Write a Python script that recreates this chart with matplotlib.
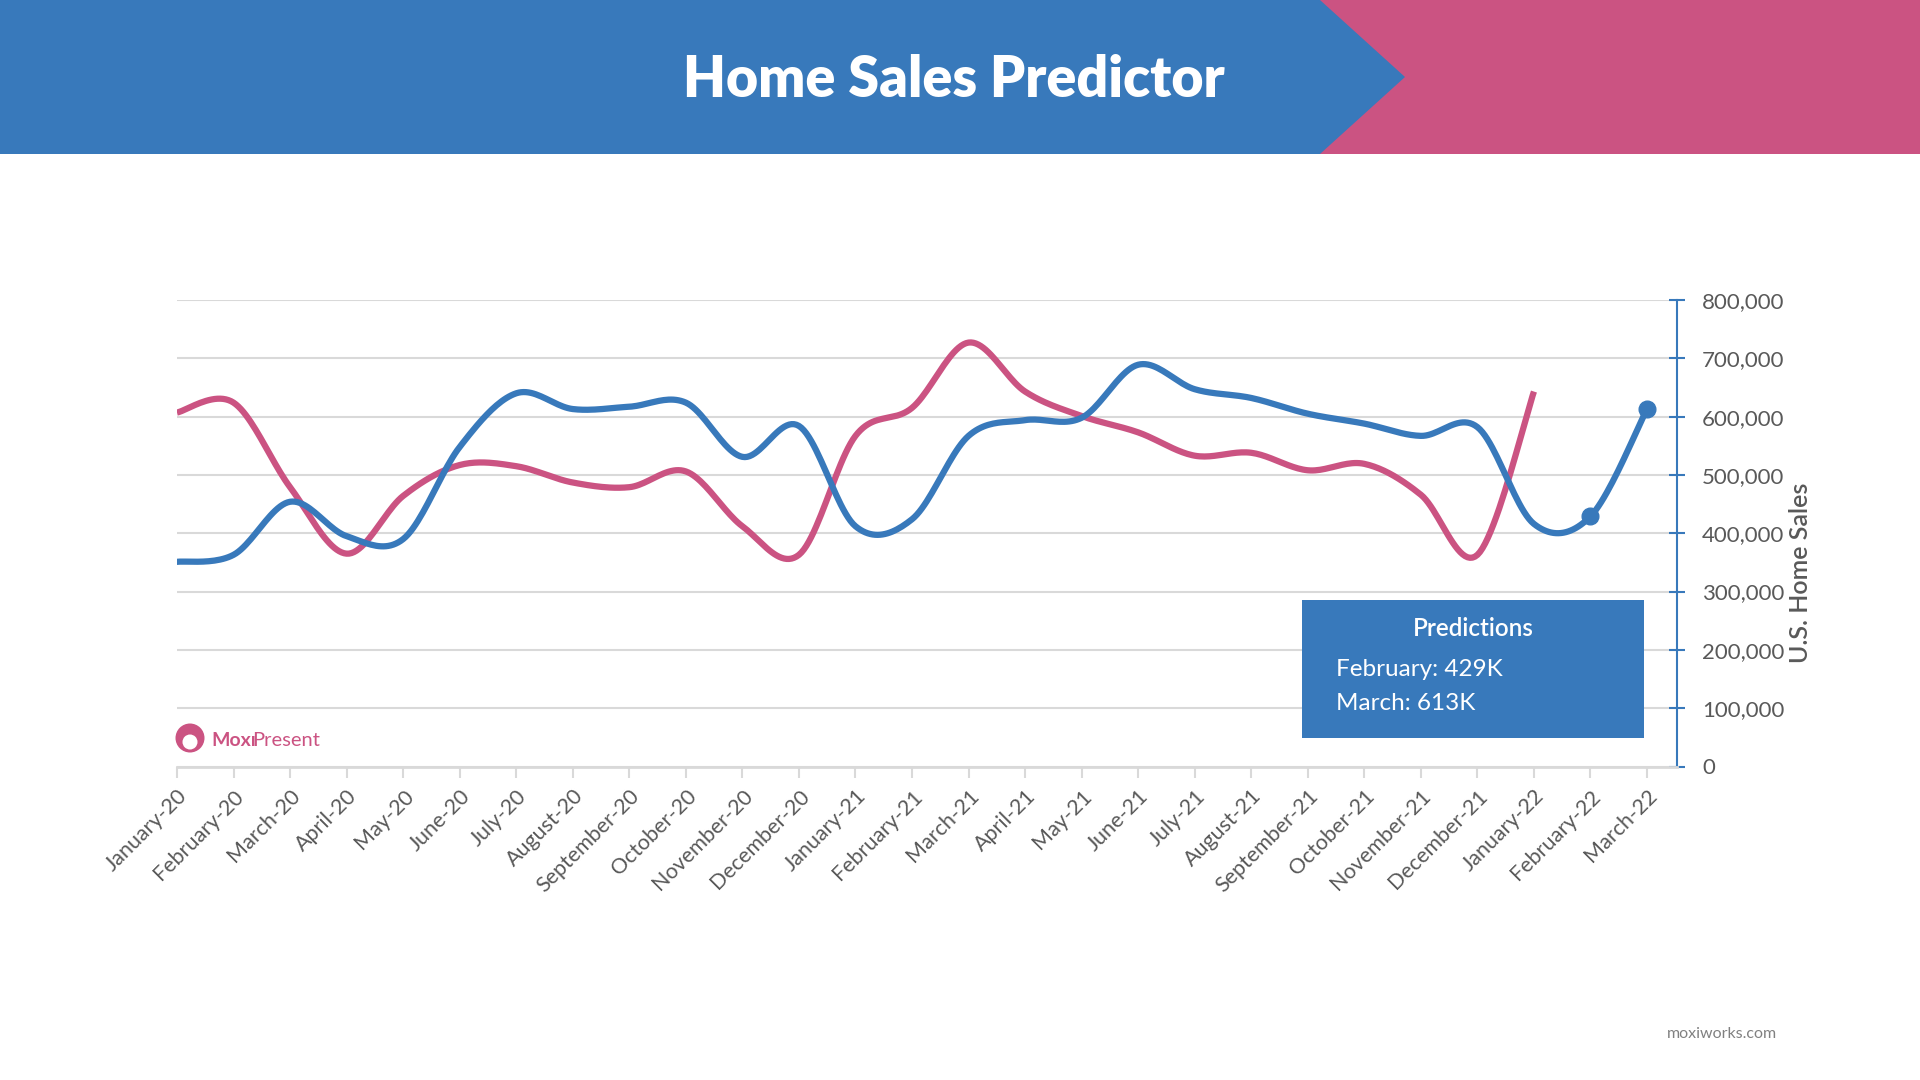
import numpy as np
import matplotlib.pyplot as plt
from matplotlib.patches import Polygon, Rectangle, Circle
from matplotlib.ticker import FuncFormatter

BLUE = "#3879BB"
PINK = "#CB5382"
GRAY = "#595959"
GRID = "#D9D9D9"

months = ["January", "February", "March", "April", "May", "June", "July",
          "August", "September", "October", "November", "December"]
labels = ([m + "-20" for m in months] + [m + "-21" for m in months]
          + ["January-22", "February-22", "March-22"])

# blue series (Jan-20 .. Mar-22, last two are predictions)
sales = [351000, 363000, 454000, 395000, 390000, 548000, 640000, 613000, 617000,
         624000, 531000, 584000, 412000, 424000, 567000, 594000, 598000, 689000,
         647000, 632000, 605000, 588000, 567000, 582000, 416000, 429000, 613000]
# pink series (Jan-20 .. Jan-22)
other = [607000, 624000, 479000, 365000, 464000, 517000, 515000, 487000, 479000,
         506000, 412000, 363000, 567000, 615000, 727000, 643000, 601000, 573000,
         533000, 538000, 508000, 519000, 466000, 363000, 643000]
pred_idx = [25, 26]


def smooth(xs, ys, n=24):
    # Catmull-Rom curve through the points, like a smoothed office chart line
    p = np.column_stack([xs, ys]).astype(float)
    p = np.vstack([p[0], p, p[-1]])
    out = []
    t = np.linspace(0, 1, n)[:, None]
    for i in range(1, len(p) - 2):
        p0, p1, p2, p3 = p[i - 1], p[i], p[i + 1], p[i + 2]
        seg = 0.5 * ((2 * p1) + (-p0 + p2) * t
                     + (2 * p0 - 5 * p1 + 4 * p2 - p3) * t ** 2
                     + (-p0 + 3 * p1 - 3 * p2 + p3) * t ** 3)
        out.append(seg)
    c = np.vstack(out)
    return c[:, 0], c[:, 1]


fig = plt.figure(figsize=(19.2, 10.8), dpi=100)

ax = fig.add_axes([177 / 1920, 313.5 / 1080, 1500 / 1920, 466.5 / 1080])
x = np.arange(len(sales))
sx, sy = smooth(x[:len(other)], other)
ax.plot(sx, sy, color=PINK, lw=4.5, solid_capstyle="butt", zorder=3)
sx, sy = smooth(x, sales)
ax.plot(sx, sy, color=BLUE, lw=4.5, solid_capstyle="round", zorder=4)
ax.plot(x[pred_idx], np.array(sales)[pred_idx], "o", color=BLUE, ms=12, zorder=5)

ax.set_xlim(0, 26.53)
ax.set_ylim(0, 800000)
ax.set_xticks(x)
ax.set_xticklabels(labels, rotation=45, ha="right", rotation_mode="anchor",
                   fontsize=15.5, color=GRAY, family="Lato")
ax.tick_params(axis="x", colors=GRID, length=8, width=1.5, pad=6, labelcolor=GRAY)

ax.yaxis.tick_right()
ax.set_yticks(np.arange(0, 800001, 100000))
ax.yaxis.set_major_formatter(FuncFormatter(lambda v, p: f"{int(v):,}"))
ax.tick_params(axis="y", colors=BLUE, direction="inout", length=12, width=1.5,
               pad=12, labelcolor=GRAY, labelsize=16)
for t in ax.get_yticklabels():
    t.set_family("Lato")
ax.grid(axis="y", color=GRID, lw=1.5, zorder=0)
for s in ["top", "left"]:
    ax.spines[s].set_visible(False)
ax.spines["right"].set_color(BLUE)
ax.spines["right"].set_linewidth(1.5)
ax.spines["bottom"].set_color(GRID)
ax.spines["bottom"].set_linewidth(2)

# overlay in pixel coordinates for banner, box, logo, footer
ov = fig.add_axes([0, 0, 1, 1], zorder=5)
ov.set_xlim(0, 1920)
ov.set_ylim(1080, 0)
ov.axis("off")
ov.patch.set_alpha(0)

ov.add_patch(Rectangle((1300, 0), 620, 154, color=PINK, lw=0))
ov.add_patch(Polygon([(0, 0), (1320, 0), (1405, 77), (1320, 154), (0, 154)],
                     closed=True, color=BLUE, lw=0))
ov.text(954, 80, "Home Sales Predictor", color="white", fontsize=40,
        fontweight="heavy", family="Lato", ha="center", va="center")

ov.add_patch(Rectangle((1302, 600), 342, 138, color=BLUE, lw=0))
ov.text(1473, 628, "Predictions", color="white", fontsize=17.5,
        family="Lato", fontweight="semibold", ha="center", va="center")
ov.text(1336, 670, "February: 429K", color="white", fontsize=17.5,
        family="Lato", ha="left", va="center")
ov.text(1336, 703, "March: 613K", color="white", fontsize=17.5,
        family="Lato", ha="left", va="center")

ov.text(1801, 573, "U.S. Home Sales", color=GRAY, fontsize=18, family="Lato",
        fontweight="semibold", rotation=90, ha="center", va="center")

ov.add_patch(Circle((190, 738), 14.5, color=PINK, lw=0))
ov.add_patch(Circle((190, 742), 7.5, color="white", lw=0))
ov.text(211, 740, "Moxı", color=PINK, fontsize=14, family="Lato",
        fontweight="bold", ha="left", va="center")
ov.text(252, 740, "Present", color=PINK, fontsize=14.5, family="Lato",
        ha="left", va="center")

ov.text(1722, 1034, "moxiworks.com", color="#808080", fontsize=11.5,
        family="Lato", ha="center", va="center")

fig.savefig("out.png", dpi=100)
